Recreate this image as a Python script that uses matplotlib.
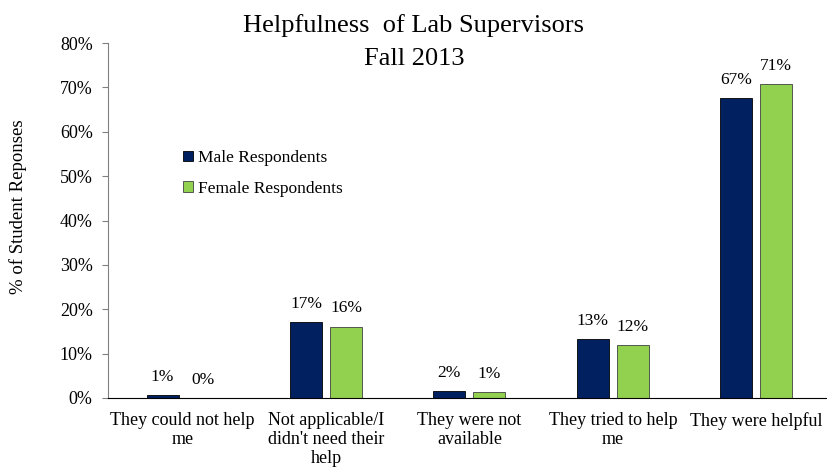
import matplotlib
matplotlib.use("Agg")
import matplotlib.pyplot as plt
import numpy as np
from matplotlib.ticker import FuncFormatter

categories = ["They could not help\nme", "Not applicable/I\ndidn't need their\nhelp",
              "They were not\navailable", "They tried to help\nme", "They were helpful"]
male = [0.6, 17.1, 1.5, 13.3, 67.5]
female = [0.0, 16.1, 1.3, 11.9, 70.7]
male_labels = ["1%", "17%", "2%", "13%", "67%"]
female_labels = ["0%", "16%", "1%", "12%", "71%"]
yticks = [0, 10, 20, 30, 40, 50, 60, 70, 80]

plt.rcParams["font.family"] = ["Liberation Serif", "DejaVu Serif"]

W, H = 828, 468
fig = plt.figure(figsize=(W / 100, H / 100), dpi=100)
ax = fig.add_axes([108 / W, 70 / H, 720 / W, 355 / H])

x = np.arange(len(categories))
w = 0.223
gap = 0.028
mcol = "#002060"
fcol = "#92D050"
ax.bar(x - w / 2 - gap, male, w, color=mcol, edgecolor="black", linewidth=0.6,
       label="Male Respondents")
ax.bar(x + w / 2 + gap, female, w, color=fcol, edgecolor="#404040", linewidth=0.6,
       label="Female Respondents")

for xi, v, lab in zip(x - w / 2 - gap, male, male_labels):
    ax.text(xi, v + 2.3, lab, ha="center", va="bottom", fontsize=12.5)
for xi, v, lab in zip(x + w / 2 + gap, female, female_labels):
    ax.text(xi, v + 2.3, lab, ha="center", va="bottom", fontsize=12.5)

ax.set_xlim(-0.52, len(categories) - 0.5)
ax.set_ylim(0, 80)
ax.set_yticks(yticks)
ax.yaxis.set_major_formatter(FuncFormatter(lambda v, p: f"{v:.0f}%"))
ax.set_xticks(x)
ax.set_xticklabels(categories, fontsize=13, linespacing=1.15)
ax.tick_params(axis="x", length=0, pad=10)
ax.tick_params(axis="y", labelsize=13, length=4, color="#808080", direction="out", pad=7)

for s in ["top", "right"]:
    ax.spines[s].set_visible(False)
ax.spines["left"].set_color("#808080")
ax.spines["bottom"].set_color("black")

fig.text(18 / W, 1 - 207 / H, "% of Student Reponses", rotation=90,
         ha="center", va="center", fontsize=13.5)

fig.text(0.5, 1 - 26 / H, "Helpfulness  of Lab Supervisors", ha="center", va="center", fontsize=19)
fig.text(0.5, 1 - 59 / H, "Fall 2013", ha="center", va="center", fontsize=19)

ax.legend(loc="upper left", bbox_to_anchor=(0.095, 0.718), frameon=False, fontsize=12.5,
          handlelength=0.55, handleheight=0.55, handletextpad=0.3, labelspacing=0.85,
          borderaxespad=0)

fig.savefig("out.png", dpi=100)
